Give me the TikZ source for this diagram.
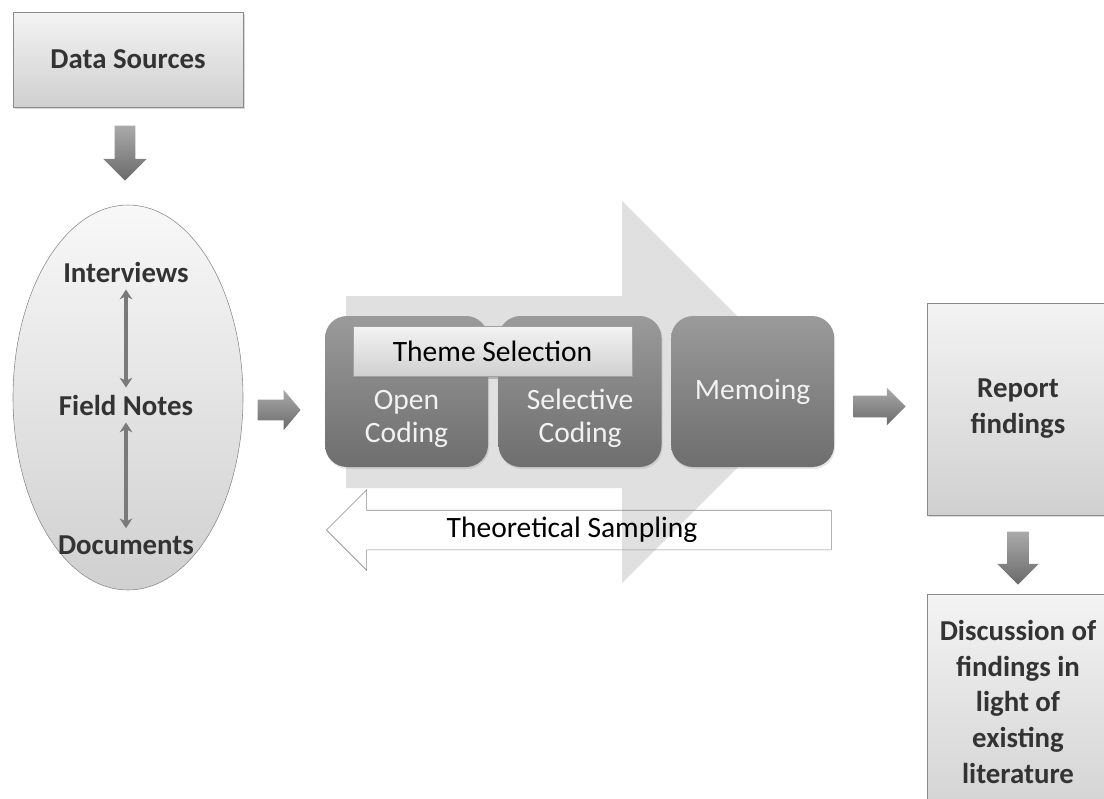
\documentclass[tikz,border=0pt]{standalone}
\usepackage{fontspec}
\setmainfont{Carlito}
\usetikzlibrary{arrows.meta,positioning,shapes.arrows,shapes.geometric,shadows}
\newlength{\pxu}
\setlength{\pxu}{0.025cm}
\definecolor{lighttop}{HTML}{F3F3F3}
\definecolor{lightbot}{HTML}{D0D0D0}
\definecolor{codetop}{HTML}{9A9A9A}
\definecolor{codebot}{HTML}{6E6E6E}
\definecolor{fattop}{HTML}{AAAAAA}
\definecolor{fatbot}{HTML}{6A6A6A}
\definecolor{bigfill}{HTML}{DEDEDE}
\definecolor{rimgray}{HTML}{8A8A8A}

\begin{document}
\begin{tikzpicture}[x=0.025cm, y=-0.025cm,
  every node/.style={font=\fontsize{21}{23.5}\selectfont},
  lbox/.style={draw=rimgray, top color=lighttop, bottom color=lightbot,
    drop shadow={shadow xshift=2\pxu, shadow yshift=-2\pxu, opacity=0.3},
    align=center, text=black!80, font=\fontsize{20.5}{25.5}\selectfont\bfseries},
  boxtxt/.style={align=center, text=black!80, font=\fontsize{20.5}{25.5}\selectfont\bfseries},
  srctxt/.style={inner sep=0pt, text=black!80, font=\fontsize{20.5}{24}\selectfont\bfseries},
  codebox/.style={rounded corners=22\pxu, minimum width=163\pxu, minimum height=151\pxu,
    top color=codetop, bottom color=codebot, text=white!95!black, align=center,
    drop shadow={shadow xshift=1\pxu, shadow yshift=-2\pxu, opacity=0.2}},
  codetxt/.style={text=white!95!black, align=center},
  fat/.style={single arrow, draw=none, inner sep=10\pxu, anchor=tail,
    top color=fattop, bottom color=fatbot},
  dbl/.style={{Stealth[length=7pt,width=9pt]}-{Stealth[length=7pt,width=9pt]},
    line width=4\pxu, draw=black!52, shorten <=7\pxu, shorten >=7\pxu}
]
\clip (0,0) rectangle (1104,798);
% sources
\node[lbox, minimum width=230\pxu, minimum height=95\pxu] (ds) at (128,59.5) {Data Sources};
\node[fat, shape border rotate=270, minimum height=55\pxu, single arrow head extend=11.5\pxu]
  (a1) at ([xshift=-3\pxu, yshift=-18\pxu]ds.south) {};
\node[draw=rimgray, ellipse, top color=lighttop!60!white, bottom color=lightbot,
  minimum width=230\pxu, minimum height=385\pxu] (src) at (128,397.5) {};
\node[srctxt] (fn) at (126,405) {Field Notes};
\node[srctxt] (iv) at (126,272) {Interviews};
\node[srctxt] (dc) at (126,545) {Documents};
\draw[dbl] (iv) -- (fn);
\draw[dbl] (fn) -- (dc);
\node[fat, minimum height=43\pxu, single arrow head extend=10\pxu, single arrow tip angle=100]
  (a2) at ([xshift=14\pxu, yshift=-12.5\pxu]src.east) {};
% analysis
\fill[bigfill, opacity=0.95] (346,296) -- (622,296) -- (622,201) -- (813,392)
  -- (622,583) -- (622,488) -- (346,488) -- cycle;
\node[single arrow, shape border rotate=180, draw=rimgray, anchor=tip,
  minimum height=505\pxu, single arrow head extend=20.5\pxu, single arrow tip angle=90,
  inner xsep=4\pxu, inner ysep=19.5\pxu] (tsamp) at (326,530) {};
\node (tstxt) at (572,530) {Theoretical Sampling};
\node[codebox] (oc) at (406.5,391.5) {};
\node[codebox, right=10\pxu of oc] (sc) {};
\node[codebox, right=9\pxu of sc] (mm) {Memoing};
\node[codetxt] (octxt) at ([yshift=-27\pxu]oc.center) {Open\\Coding};
\node[codetxt] (sctxt) at ([yshift=-27\pxu]sc.center) {Selective\\Coding};
\node[draw=rimgray!80, top color=lighttop, bottom color=lightbot,
  drop shadow={shadow xshift=1\pxu, shadow yshift=-3\pxu, opacity=0.45},
  minimum width=279\pxu, minimum height=50\pxu] (ts) at (492.5,351) {Theme Selection};
\node[fat, minimum height=52\pxu, inner sep=10.5\pxu, single arrow head extend=8\pxu,
  single arrow tip angle=90] (a3) at ([xshift=19\pxu, yshift=-15\pxu]mm.east) {};
% results
\node[lbox, minimum width=182\pxu, minimum height=212\pxu] (rf) at (1018,409) {Report\\findings};
\node[fat, shape border rotate=270, minimum height=53\pxu, inner sep=10.5\pxu,
  single arrow head extend=10\pxu] (a4) at ([yshift=-16\pxu]rf.south) {};
\node[lbox, minimum width=182\pxu, minimum height=240\pxu, anchor=north] (disc)
  at ([yshift=-9\pxu]a4.tip) {};
\node[boxtxt, anchor=north] (disctxt) at ([yshift=-21\pxu]disc.north)
  {Discussion of\\findings in\\light of\\existing\\literature};
\end{tikzpicture}
\end{document}
